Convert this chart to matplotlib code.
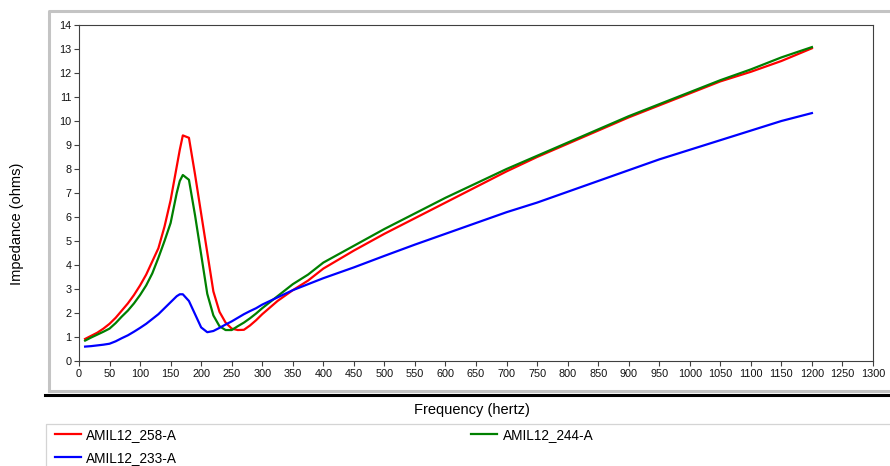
import numpy as np
import matplotlib.pyplot as plt
from matplotlib.lines import Line2D

plt.rcParams['font.family'] = ['Liberation Sans', 'DejaVu Sans']

freq = [10, 20, 30, 40, 50, 60, 70, 80, 90, 100, 110, 120, 130, 140, 150, 160, 165, 170,
        180, 190, 200, 210, 220, 230, 240, 250, 260, 270, 280, 290, 300, 325, 350, 375,
        400, 450, 500, 550, 600, 650, 700, 750, 800, 850, 900, 950, 1000, 1050, 1100,
        1150, 1200]

z_258 = [0.92, 1.05, 1.18, 1.35, 1.55, 1.8, 2.1, 2.4, 2.75, 3.15, 3.6, 4.15, 4.7, 5.6,
         6.7, 8.1, 8.8, 9.4, 9.3, 7.77, 6.14, 4.52, 2.9, 2.05, 1.6, 1.35, 1.29, 1.3, 1.48,
         1.7, 1.95, 2.5, 2.95, 3.35, 3.85, 4.6, 5.3, 5.95, 6.6, 7.25, 7.9, 8.5, 9.05, 9.6,
         10.15, 10.65, 11.15, 11.65, 12.05, 12.5, 13.03]

z_244 = [0.85, 0.98, 1.1, 1.22, 1.35, 1.58, 1.85, 2.1, 2.4, 2.75, 3.15, 3.65, 4.3, 5.0,
         5.75, 7.0, 7.5, 7.75, 7.55, 6.07, 4.44, 2.8, 1.9, 1.45, 1.29, 1.29, 1.45, 1.6,
         1.78, 1.98, 2.2, 2.7, 3.2, 3.6, 4.1, 4.8, 5.5, 6.15, 6.8, 7.4, 8.0, 8.55,
         9.1, 9.65, 10.2, 10.7, 11.2, 11.7, 12.15, 12.65, 13.08]

z_233 = [0.6, 0.62, 0.65, 0.68, 0.72, 0.82, 0.95, 1.07, 1.22, 1.38, 1.55, 1.75, 1.95,
         2.2, 2.45, 2.7, 2.78, 2.78, 2.5, 1.95, 1.4, 1.2, 1.25, 1.38, 1.52, 1.65, 1.8,
         1.95, 2.08, 2.2, 2.35, 2.65, 2.95, 3.2, 3.45, 3.9, 4.38, 4.85, 5.3, 5.75, 6.2,
         6.6, 7.05, 7.5, 7.95, 8.4, 8.8, 9.2, 9.6, 10.0, 10.33]

names = ['AMIL12_258-A', 'AMIL12_233-A', 'AMIL12_244-A']

W, H = 890, 466
fig = plt.figure(figsize=(8.9, 4.66), dpi=100)
ax = fig.add_axes([79 / W, 1 - 361 / H, 794 / W, 336 / H])

l1, = ax.plot(freq, z_258, color='#ff0000', lw=1.6)
l3, = ax.plot(freq, z_244, color='#008000', lw=1.6)
l2, = ax.plot(freq, z_233, color='#0000ff', lw=1.6)

ax.set_xlim(0, 1300)
ax.set_ylim(0, 14)
ax.set_xticks(np.arange(0, 1301, 50))
ax.set_yticks(np.arange(0, 15, 1))
ax.tick_params(direction='out', length=3.5, width=0.8, labelsize=7.8, pad=2,
               color='#404040', labelcolor='#111111')
for s in ax.spines.values():
    s.set_color('#404040')
    s.set_linewidth(0.8)

# outer frame, shadow and legend box borders
fig.add_artist(Line2D([48.5 / W, 48.5 / W, 1.0], [1 - 391 / H, 1 - 10.5 / H, 1 - 10.5 / H],
                      color='#c4c4c4', lw=2.2))
fig.add_artist(Line2D([48.5 / W, 1.0], [1 - 391 / H, 1 - 391 / H], color='#c4c4c4', lw=2.2))
fig.add_artist(Line2D([45 / W, 1.0], [1 - 394.5 / H, 1 - 394.5 / H], color='black', lw=2.2))
fig.add_artist(Line2D([45.5 / W, 45.5 / W, 1.0], [0, 1 - 424 / H, 1 - 424 / H],
                      color='#d4d4d4', lw=0.9))

fig.text(472 / W, 1 - 410 / H, 'Frequency (hertz)', ha='center', va='center', fontsize=10.5)
fig.text(17 / W, 1 - 224 / H, 'Impedance (ohms)', ha='center', va='center',
         rotation=90, fontsize=10.5)

fig.legend([l1, l2, l3], names, ncol=2, loc='upper left',
           bbox_to_anchor=(55 / W, 1 - 428 / H), frameon=False, fontsize=9.8,
           borderaxespad=0, borderpad=0, handlelength=1.9, handletextpad=0.4,
           columnspacing=21.6, labelspacing=0.66)

fig.savefig('out.png', dpi=100)
